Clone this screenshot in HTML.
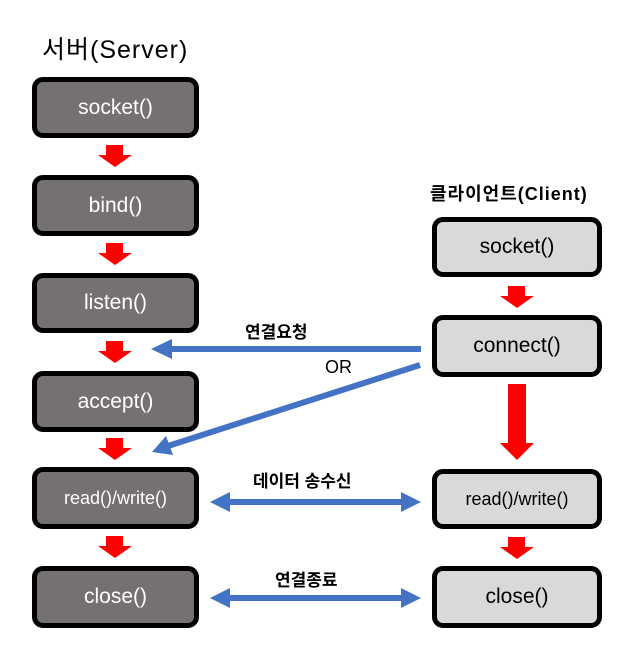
<!DOCTYPE html>
<html><head><meta charset="utf-8"><style>
body{margin:0;background:#fff;width:644px;height:654px;position:relative;overflow:hidden;font-family:"Liberation Sans","Noto Sans CJK KR",sans-serif}
.b{position:absolute;box-sizing:border-box;border:5px solid #000;border-radius:11px;display:flex;align-items:center;justify-content:center;font-size:21px}
.s{background:#767171;color:#fff;left:32px;width:167px}
.c{background:#d9d9d9;color:#000;left:432px;width:170px}
.t{position:absolute;font-weight:bold;white-space:nowrap}
</style></head><body>
<div class="t" style="left:42px;top:30px;font-size:25px;font-weight:normal;letter-spacing:1px">서버(Server)</div>
<div class="t" style="left:430px;top:180px;font-size:18px;letter-spacing:1px">클라이언트(Client)</div>
<div class="b s" style="top:77px;height:61px">socket()</div>
<div class="b s" style="top:175px;height:61px">bind()</div>
<div class="b s" style="top:273px;height:60px">listen()</div>
<div class="b s" style="top:371px;height:61px">accept()</div>
<div class="b s" style="top:467px;height:62px;font-size:18px">read()/write()</div>
<div class="b s" style="top:566px;height:62px">close()</div>
<div class="b c" style="top:217px;height:60px">socket()</div>
<div class="b c" style="top:315px;height:62px">connect()</div>
<div class="b c" style="top:469px;height:60px;font-size:18px">read()/write()</div>
<div class="b c" style="top:566px;height:62px">close()</div>
<div class="t" style="left:245px;top:318px;font-size:17px">연결요청</div>
<div class="t" style="left:325px;top:357px;font-size:18px;font-weight:normal">OR</div>
<div class="t" style="left:253px;top:467px;font-size:17px">데이터 송수신</div>
<div class="t" style="left:275px;top:566px;font-size:17px">연결종료</div>
<svg width="644" height="654" style="position:absolute;left:0;top:0">
<g fill="#ff0000">
<polygon points="106,145 123,145 123,155 132,155 115,167 98,155 106,155"/>
<polygon points="106,243 123,243 123,253 132,253 115,265 98,253 106,253"/>
<polygon points="106,341 123,341 123,351 132,351 115,363 98,351 106,351"/>
<polygon points="106,438 123,438 123,448 132,448 115,460 98,448 106,448"/>
<polygon points="106,536 123,536 123,546 132,546 115,558 98,546 106,546"/>
<polygon points="508,286 525,286 525,296 534,296 517,308 500,296 508,296"/>
<polygon points="508,384 526,384 526,443 534,443 517,460 500,443 508,443"/>
<polygon points="508,537 525,537 525,547 534,547 517,559 500,547 508,547"/>
</g>
<g fill="#4472c4" stroke="#4472c4">
<line x1="421" y1="349" x2="170" y2="349" stroke-width="6"/>
<polygon points="151,349 172,339 172,359" stroke="none"/>
<line x1="420" y1="365" x2="168" y2="446" stroke-width="6"/>
<polygon points="152,452 166,436 173,455" stroke="none"/>
<line x1="228" y1="502" x2="402" y2="502" stroke-width="6"/>
<polygon points="210,502 230,492 230,512" stroke="none"/>
<polygon points="421,502 401,492 401,512" stroke="none"/>
<line x1="228" y1="598" x2="402" y2="598" stroke-width="6"/>
<polygon points="210,598 230,588 230,608" stroke="none"/>
<polygon points="421,598 401,588 401,608" stroke="none"/>
</g>
</svg>
</body></html>
